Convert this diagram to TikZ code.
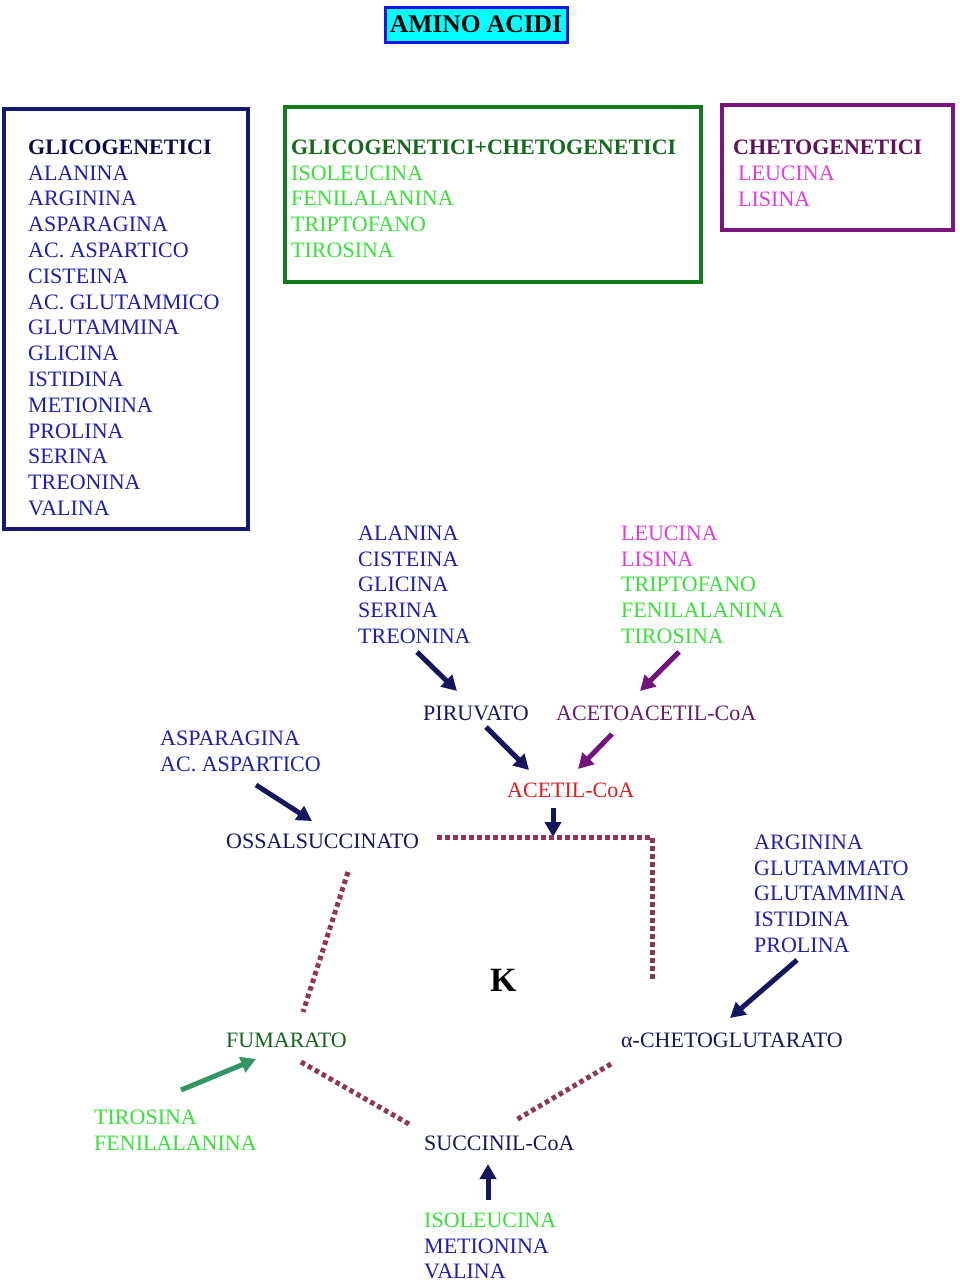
\documentclass[tikz,border=0pt]{standalone}
\usepackage{fontspec}
\setmainfont{Liberation Serif}
\usetikzlibrary{arrows.meta}
\definecolor{boxblue}{RGB}{22,22,115}
\definecolor{headnavy}{RGB}{12,12,75}
\definecolor{itemblue}{RGB}{30,30,175}
\definecolor{darknavy}{RGB}{22,22,95}
\definecolor{boxgreen}{RGB}{15,125,25}
\definecolor{headgreen}{RGB}{20,105,30}
\definecolor{lgreen}{RGB}{55,225,55}
\definecolor{boxpurple}{RGB}{125,20,125}
\definecolor{headpurple}{RGB}{100,15,90}
\definecolor{magentac}{RGB}{225,60,220}
\definecolor{purplearrow}{RGB}{115,20,125}
\definecolor{acetoc}{RGB}{100,30,100}
\definecolor{redc}{RGB}{220,30,30}
\definecolor{dotc}{RGB}{140,55,90}
\definecolor{seagreenc}{RGB}{50,150,100}
\definecolor{fumc}{RGB}{20,100,30}
\definecolor{titleborder}{RGB}{20,20,230}
\definecolor{titlefill}{RGB}{0,255,255}
\newcommand{\txtsize}{\fontsize{22}{25.8}\selectfont}
\tikzset{
  lbl/.style={anchor=base west, inner sep=0pt, font=\txtsize},
  lst/.style={anchor=north west, inner sep=0pt, align=left, font=\txtsize},
  arr/.style={line width=5pt, -{Triangle[length=15pt,width=16pt]}},
  dotl/.style={dotc, line width=5pt, dash pattern=on 4.5pt off 3.5pt},
  frame/.style={line width=4pt}
}
\begin{document}
\begin{tikzpicture}[x=1pt,y=-1pt]
\useasboundingbox (0,0) rectangle (960,1282);
% title
\node[draw=titleborder, fill=titlefill, line width=3pt, minimum width=182pt, minimum height=35pt, inner sep=0pt,
      font=\fontsize{25.5}{28}\selectfont\bfseries] (title) at (476,24.5) {AMINO ACIDI};
% boxes
\draw[frame, boxblue] (4,109) rectangle (248,529);
\draw[frame, boxgreen] (285,107) rectangle (701,282);
\draw[frame, boxpurple] (722,105) rectangle (953,230);
% box contents
\node[lst] (glico) at (28,135.94) {\strut\textcolor{headnavy}{\bfseries GLICOGENETICI}\\
 \textcolor{itemblue}{ALANINA}\\ \textcolor{itemblue}{ARGININA}\\ \textcolor{itemblue}{ASPARAGINA}\\
 \textcolor{itemblue}{AC. ASPARTICO}\\ \textcolor{itemblue}{CISTEINA}\\ \textcolor{itemblue}{AC. GLUTAMMICO}\\
 \textcolor{itemblue}{GLUTAMMINA}\\ \textcolor{itemblue}{GLICINA}\\ \textcolor{itemblue}{ISTIDINA}\\
 \textcolor{itemblue}{METIONINA}\\ \textcolor{itemblue}{PROLINA}\\ \textcolor{itemblue}{SERINA}\\
 \textcolor{itemblue}{TREONINA}\\ \textcolor{itemblue}{VALINA}};
\node[lst] (glicheto) at (291,135.94) {\strut\textcolor{headgreen}{\bfseries GLICOGENETICI+CHETOGENETICI}\\
 \textcolor{lgreen}{ISOLEUCINA}\\ \textcolor{lgreen}{FENILALANINA}\\ \textcolor{lgreen}{TRIPTOFANO}\\ \textcolor{lgreen}{TIROSINA}};
\node[lbl, text=headpurple, font=\txtsize\bfseries] (cheto) at (733,154) {CHETOGENETICI};
\node[lst, text=magentac] (chetolist) at (738,161.94) {\strut LEUCINA\\ LISINA};
% middle lists
\node[lst, text=itemblue] (pirlist) at (358,521.94) {\strut ALANINA\\ CISTEINA\\ GLICINA\\ SERINA\\ TREONINA};
\node[lst] (acetolist) at (621,521.94) {\strut\textcolor{magentac}{LEUCINA}\\ \textcolor{magentac}{LISINA}\\
 \textcolor{lgreen}{TRIPTOFANO}\\ \textcolor{lgreen}{FENILALANINA}\\ \textcolor{lgreen}{TIROSINA}};
\node[lbl, text=darknavy] (piruvato) at (423,720) {PIRUVATO};
\node[lbl, text=acetoc] (acetoacetil) at (556,720) {ACETOACETIL-CoA};
\node[lbl, text=redc] (acetil) at (507,797) {ACETIL-CoA};
\node[lst, text=itemblue] (asplist) at (160,726.94) {\strut ASPARAGINA\\ AC. ASPARTICO};
\node[lbl, text=darknavy] (ossal) at (226,848) {OSSALSUCCINATO};
\node[lst, text=itemblue] (arglist) at (754,830.94) {\strut ARGININA\\ GLUTAMMATO\\ GLUTAMMINA\\ ISTIDINA\\ PROLINA};
\node[anchor=base west, inner sep=0pt, font=\fontsize{34}{38}\selectfont\bfseries] (K) at (490,991) {K};
\node[lbl, text=fumc] (fumarato) at (226,1047) {FUMARATO};
\node[lbl, text=darknavy] (akg) at (621,1047) {α-CHETOGLUTARATO};
\node[lst, text=lgreen] (tirlist) at (94,1105.94) {\strut TIROSINA\\ FENILALANINA};
\node[lbl, text=darknavy] (succinil) at (424,1150) {SUCCINIL-CoA};
\node[lst] (isolist) at (424,1208.94) {\strut\textcolor{lgreen}{ISOLEUCINA}\\ \textcolor{itemblue}{METIONINA}\\ \textcolor{itemblue}{VALINA}};
% arrow endpoints
\coordinate (a1s) at (417,652); \coordinate (a1e) at (457,691);
\coordinate (a2s) at (679,652); \coordinate (a2e) at (640,691);
\coordinate (a3s) at (486,727); \coordinate (a3e) at (529,770);
\coordinate (a4s) at (612,734); \coordinate (a4e) at (578,769);
\coordinate (a5s) at (553,808); \coordinate (a5e) at (553,837);
\coordinate (a6s) at (256,785); \coordinate (a6e) at (312,821);
\coordinate (a7s) at (797,960); \coordinate (a7e) at (730,1018);
\coordinate (a8s) at (181,1090); \coordinate (a8e) at (256,1059);
\coordinate (a9s) at (488,1200); \coordinate (a9e) at (488,1164);
\draw[arr, darknavy] (a1s) -- (a1e);
\draw[arr, purplearrow] (a2s) -- (a2e);
\draw[arr, darknavy] (a3s) -- (a3e);
\draw[arr, purplearrow] (a4s) -- (a4e);
\draw[arr, darknavy] (a5s) -- (a5e);
\draw[arr, darknavy] (a6s) -- (a6e);
\draw[arr, darknavy] (a7s) -- (a7e);
\draw[arr, seagreenc] (a8s) -- (a8e);
\draw[arr, darknavy] (a9s) -- (a9e);
% cycle dotted lines
\coordinate (d1) at (437,837); \coordinate (d2) at (652,837); \coordinate (d3) at (652,979);
\coordinate (d4) at (348,872); \coordinate (d5) at (303,1012);
\coordinate (d6) at (301,1062); \coordinate (d7) at (409,1124);
\coordinate (d8) at (611,1064); \coordinate (d9) at (516,1120);
\draw[dotl] (d1) -- (d2) -- (d3);
\draw[dotl] (d4) -- (d5);
\draw[dotl] (d6) -- (d7);
\draw[dotl] (d8) -- (d9);
\end{tikzpicture}
\end{document}
